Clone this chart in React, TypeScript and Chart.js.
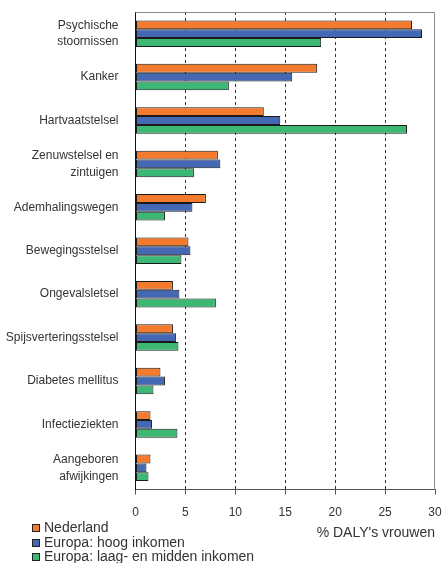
import React, { useEffect, useRef } from "react";
import { Chart, registerables } from "chart.js";

Chart.register(...registerables);

const categories: (string | string[])[] = [
  ["Psychische", "stoornissen"],
  "Kanker",
  "Hartvaatstelsel",
  ["Zenuwstelsel en", "zintuigen"],
  "Ademhalingswegen",
  "Bewegingsstelsel",
  "Ongevalsletsel",
  "Spijsverteringsstelsel",
  "Diabetes mellitus",
  "Infectieziekten",
  ["Aangeboren", "afwijkingen"],
];

const nederland = [27.7, 18.2, 12.85, 8.25, 7.05, 5.3, 3.75, 3.75, 2.5, 1.5, 1.5];
const europaHoog = [28.7, 15.7, 14.5, 8.5, 5.7, 5.5, 4.4, 4.05, 2.95, 1.65, 1.1];
const europaLaag = [18.6, 9.35, 27.2, 5.85, 2.95, 4.6, 8.05, 4.3, 1.8, 4.2, 1.3];

const seriesNames = [
  "Nederland",
  "Europa: hoog inkomen",
  "Europa: laag- en midden inkomen",
];
const seriesColors = ["#F47A2E", "#4468B3", "#3DB774"];

const xTicks = [0, 5, 10, 15, 20, 25, 30];
const axisTitle = "% DALY's vrouwen";

const FONT = "'Liberation Sans', Arial, sans-serif";

const zeroPad = (scale: any) => {
  scale.paddingLeft = 0;
  scale.paddingRight = 0;
  scale.paddingTop = 0;
  scale.paddingBottom = 0;
};

const framePlugin = {
  id: "frameAndLegend",
  afterDraw(chart: any) {
    const { ctx, chartArea } = chart;
    const { left, right, top, bottom } = chartArea;
    ctx.save();
    // top and right frame
    ctx.strokeStyle = "#8a8a8a";
    ctx.lineWidth = 1;
    ctx.beginPath();
    ctx.moveTo(left, top + 0.5);
    ctx.lineTo(Math.round(right) - 0.5, top + 0.5);
    ctx.lineTo(Math.round(right) - 0.5, bottom);
    ctx.stroke();

    // axis title
    ctx.fillStyle = "#333";
    ctx.font = `14px ${FONT}`;
    ctx.textAlign = "right";
    ctx.textBaseline = "middle";
    ctx.fillText(axisTitle, right, 533);

    // legend
    ctx.textAlign = "left";
    const rows = [528, 543, 557];
    seriesNames.forEach((name, i) => {
      const y = rows[i];
      ctx.fillStyle = seriesColors[i];
      ctx.fillRect(32, y - 4, 8, 8);
      ctx.strokeStyle = "#222";
      ctx.strokeRect(32.5, y - 3.5, 7, 7);
      ctx.fillStyle = "#333";
      ctx.font = `14px ${FONT}`;
      ctx.fillText(name, 44, y);
    });
    ctx.restore();
  },
};

export default function App() {
  const ref = useRef<HTMLCanvasElement | null>(null);

  useEffect(() => {
    if (!ref.current) return;
    const data = [nederland, europaHoog, europaLaag];
    const chart = new Chart(ref.current, {
      type: "bar",
      data: {
        labels: categories,
        datasets: data.map((d, i) => ({
          label: seriesNames[i],
          data: d,
          backgroundColor: seriesColors[i],
          borderColor: "#1a1a1a",
          borderWidth: 1,
          borderSkipped: false,
          categoryPercentage: 0.61,
          barPercentage: 1.0,
        })),
      },
      options: {
        indexAxis: "y",
        animation: false,
        responsive: false,
        maintainAspectRatio: false,
        layout: { padding: { top: 12, right: 8, left: 0, bottom: 0 } },
        plugins: {
          legend: { display: false },
          tooltip: { enabled: false },
        },
        scales: {
          x: {
            type: "linear",
            position: "bottom",
            min: 0,
            max: 30,
            afterBuildTicks: (scale: any) => {
              scale.ticks = xTicks.map((v) => ({ value: v }));
            },
            afterFit: (scale: any) => {
              scale.height = 73.5;
              zeroPad(scale);
            },
            ticks: {
              color: "#333",
              font: { family: FONT, size: 12 },
              padding: 11,
            },
            grid: {
              drawOnChartArea: true,
              color: (c: any) =>
                c.tick && (c.tick.value === 0 || c.tick.value === 30)
                  ? "rgba(0,0,0,0)"
                  : "#333",
              tickColor: "#555",
              tickLength: 5,
            },
            border: { display: true, color: "#555", dash: [3, 3] } as any,
          },
          y: {
            type: "category",
            afterFit: (scale: any) => {
              scale.width = 135.5;
              zeroPad(scale);
            },
            ticks: {
              color: "#333",
              font: { family: FONT, size: 12, lineHeight: 1.4 },
              padding: 9,
              autoSkip: false,
            },
            grid: { display: false },
            border: { display: true, color: "#111", width: 1 },
          },
        },
      },
      plugins: [framePlugin],
    });
    return () => chart.destroy();
  }, []);

  return (
    <div style={{ position: "fixed", left: 0, top: 0, width: 443, height: 563, background: "#fff" }}>
      <canvas ref={ref} width={443} height={563} style={{ width: 443, height: 563 }} />
    </div>
  );
}
